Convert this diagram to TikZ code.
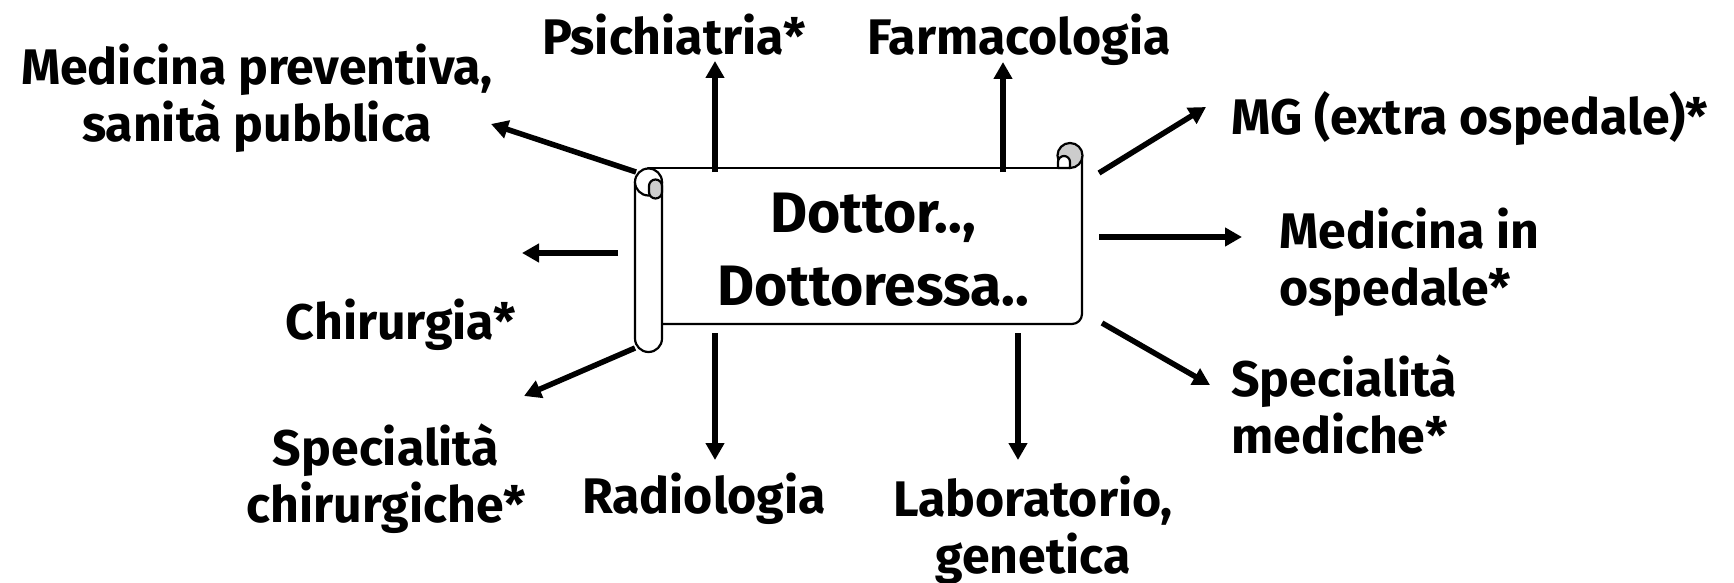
\documentclass[tikz,border=0pt]{standalone}
\usepackage{fontspec}
\setmainfont{Fira Sans}
\usetikzlibrary{arrows.meta}
\begin{document}
\begin{tikzpicture}[x=1pt,y=-1pt,
  lab/.style={font=\fontsize{50}{57}\selectfont\bfseries, inner sep=0pt, align=center},
  arr/.style={line width=5.5pt, -{Triangle[length=17pt,width=18pt]}},
  scrollline/.style={line width=2.2pt, line join=round, line cap=round},
  curlfill/.style={fill=black!20}]
\useasboundingbox (0,0) rectangle (1734,583);
% scroll body
\fill[white] (648,168) rectangle (1082,324);
\draw[scrollline] (648,168) -- (1070,168);
\draw[scrollline] (1082,155.5) -- (1082,314) arc[start angle=0,end angle=-90,radius=10pt] -- (662,324);
% right curl
\draw[scrollline, curlfill] (1070,155.5) circle[radius=12.5pt];
\draw[scrollline, fill=white] (1058,168) -- (1058,162) arc[start angle=180,end angle=0,radius=6pt] -- (1070,168) -- cycle;
% left roll
\draw[scrollline, fill=white] (635,182) -- (635,338.5) arc[start angle=180,end angle=360,radius=13.5pt] -- (662,182);
\draw[scrollline, fill=white] (648.5,182) circle[radius=13.5pt];
\draw[scrollline, curlfill] (649,186) arc[start angle=180,end angle=0,radius=6.5pt] -- (662,192) arc[start angle=0,end angle=-180,radius=6.5pt] -- cycle;
% texts (multi-line nodes: base = last line's baseline)
\node[font=\fontsize{57}{73}\selectfont\bfseries, inner sep=0pt, align=center, anchor=base] (doc) at (873,305) {Dottor..,\\Dottoressa..};
\node[lab, anchor=base] (psych) at (674,55) {Psichiatria*};
\node[lab, anchor=base] (farm) at (1019,55) {Farmacologia};
\node[lab, anchor=base] (prev) at (257,142) {Medicina preventiva,\\sanità pubblica};
\node[lab, anchor=base west, align=left] (mg) at (1231,135) {MG (extra ospedale)*};
\node[lab, anchor=base west, align=left] (osp) at (1279,305) {Medicina in\\ospedale*};
\node[lab, anchor=base west, align=left] (medspec) at (1231,453) {Specialità\\mediche*};
\node[lab, anchor=base] (labo) at (1033,573) {Laboratorio,\\genetica};
\node[lab, anchor=base] (rad) at (704,513) {Radiologia};
\node[lab, anchor=base] (chirspec) at (386,522) {Specialità\\chirurgiche*};
\node[lab, anchor=base] (chir) at (401,339) {Chirurgia*};
% arrow end points
\coordinate (s1) at (715,172);  \coordinate (t1) at (715,61);
\coordinate (s2) at (1003,172); \coordinate (t2) at (1003,62);
\coordinate (s3) at (636,172);  \coordinate (t3) at (491,124);
\coordinate (s4) at (618,253);  \coordinate (t4) at (522,253);
\coordinate (s5) at (635,348);  \coordinate (t5) at (524,396);
\coordinate (s6) at (715,333);  \coordinate (t6) at (715,460);
\coordinate (s7) at (1018,333); \coordinate (t7) at (1018,460);
\coordinate (s8) at (1099,173); \coordinate (t8) at (1206,107);
\coordinate (s9) at (1099,237); \coordinate (t9) at (1242,237);
\coordinate (s10) at (1102,323); \coordinate (t10) at (1210,385);
\foreach \i in {1,...,10} {\draw[arr] (s\i) -- (t\i);}
\end{tikzpicture}
\end{document}
